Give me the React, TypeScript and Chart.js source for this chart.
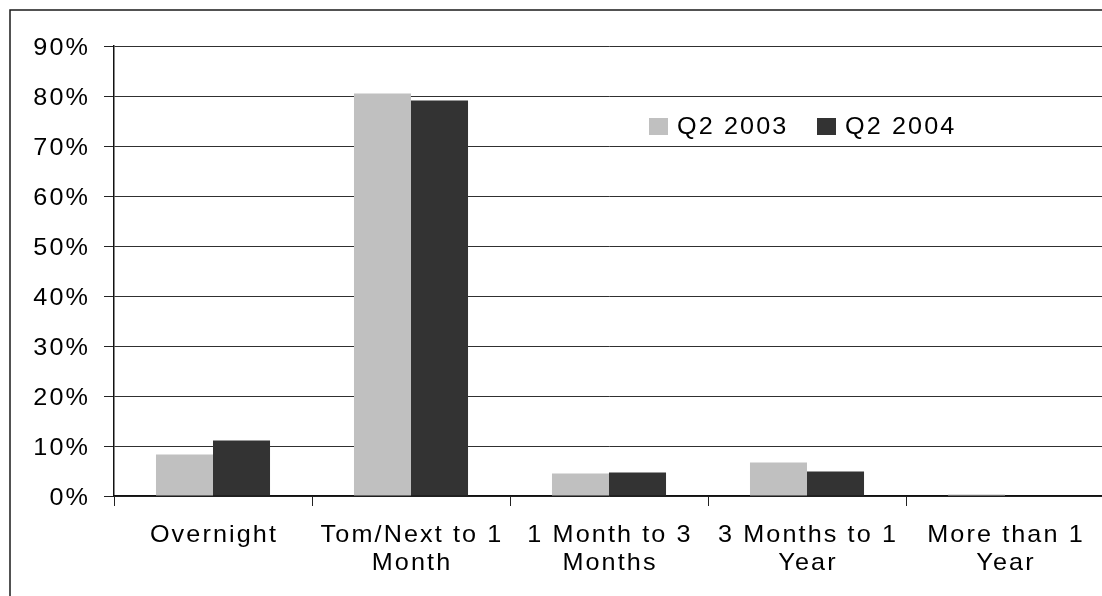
import React, { useEffect, useRef } from "react";
import { Chart, registerables } from "chart.js";

Chart.register(...registerables);

const categories: string[][] = [
  ["Overnight"],
  ["Tom/Next to 1", "Month"],
  ["1 Month to 3", "Months"],
  ["3 Months to 1", "Year"],
  ["More than 1", "Year"],
];
const seriesNames = ["Q2 2003", "Q2 2004"];
const q2003 = [8.3, 80.5, 4.5, 6.7, 0.3];
const q2004 = [11.1, 79.1, 4.7, 4.9, 0];
const seriesColors = ["#C0C0C0", "#333333"];
const yMin = 0;
const yMax = 90;
const yStep = 10;

const FONT = "24px 'Liberation Sans', Arial, sans-serif";
const STRETCH = 1.05;
const SPACING = 2;

function drawStretched(ctx: CanvasRenderingContext2D, text: string, x: number, y: number, align: CanvasTextAlign) {
  ctx.save();
  ctx.translate(x, y);
  ctx.scale(STRETCH, 1);
  ctx.textAlign = align;
  (ctx as any).letterSpacing = `${SPACING}px`;
  ctx.fillText(text, 0, 0);
  ctx.restore();
}

const framePlugin = {
  id: "frame",
  beforeDraw(chart: any) {
    const ctx = chart.ctx;
    ctx.save();
    ctx.fillStyle = "#fff";
    ctx.fillRect(0, 0, chart.width, chart.height);
    ctx.strokeStyle = "#1a1a1a";
    ctx.lineWidth = 1.5;
    ctx.strokeRect(10, 10, 3000, 3000);
    ctx.restore();
  },
};

const textPlugin = {
  id: "stretchedText",
  afterDraw(chart: any) {
    const ctx: CanvasRenderingContext2D = chart.ctx;
    ctx.save();
    ctx.font = FONT;
    ctx.fillStyle = "#000";
    ctx.textBaseline = "alphabetic";

    // y tick labels
    const ys = chart.scales.y;
    ys.ticks.forEach((t: any, i: number) => {
      const y = ys.getPixelForTick(i);
      drawStretched(ctx, `${t.value}%`, ys.right - 24, y + 8.8, "right");
    });

    // x category labels
    const xs = chart.scales.x;
    const labels: string[][] = chart.data.labels;
    labels.forEach((lines, i) => {
      const x = xs.getPixelForValue(i) + 1;
      lines.forEach((line, j) => {
        drawStretched(ctx, line, x, xs.top + 45.5 + j * 28.5, "center");
      });
    });

    // legend
    const starts = [649, 817];
    chart.data.datasets.forEach((ds: any, i: number) => {
      const x = starts[i];
      ctx.fillStyle = ds.backgroundColor;
      ctx.fillRect(x, 118, 19, 17);
      ctx.fillStyle = "#000";
      drawStretched(ctx, ds.label, x + 28, 133.5, "left");
    });
    ctx.restore();
  },
};

export default function App() {
  const ref = useRef<HTMLCanvasElement>(null);
  useEffect(() => {
    document.body.style.overflow = "hidden";
    const chart = new Chart(ref.current!, {
      type: "bar",
      data: {
        labels: categories,
        datasets: [
          { label: seriesNames[0], data: q2003, backgroundColor: seriesColors[0] },
          { label: seriesNames[1], data: q2004, backgroundColor: seriesColors[1] },
        ],
      },
      options: {
        animation: false,
        responsive: false,
        maintainAspectRatio: false,
        devicePixelRatio: 1,
        layout: { padding: { top: 46, left: 0, right: 6, bottom: 0 } },
        datasets: {
          bar: { categoryPercentage: 0.576, barPercentage: 1, borderWidth: 0 },
        },
        plugins: {
          legend: { display: false },
          tooltip: { enabled: false },
          title: { display: false },
        },
        scales: {
          x: {
            offset: true,
            grid: {
              offset: true,
              drawOnChartArea: false,
              drawTicks: true,
              tickLength: 10,
              tickColor: "#222",
              tickWidth: 1,
            },
            border: { display: true, color: "#111", width: 1.5 },
            ticks: {
              color: "rgba(0,0,0,0)",
              padding: 11,
              maxRotation: 0,
              autoSkip: false,
              font: { size: 12 },
            },
            afterFit(scale: any) {
              scale.height = 100;
            },
          },
          y: {
            min: yMin,
            max: yMax,
            ticks: {
              stepSize: yStep,
              color: "rgba(0,0,0,0)",
              padding: 13,
              font: { size: 12 },
            },
            grid: {
              color: "#303030",
              lineWidth: 1,
              drawTicks: true,
              tickLength: 10,
              tickColor: "#222",
            },
            border: { display: true, color: "#111", width: 1.5 },
            afterFit(scale: any) {
              scale.width = 114;
            },
          },
        },
      },
      plugins: [framePlugin, textPlugin],
    });
    return () => chart.destroy();
  }, []);
  return (
    <div
      style={{
        position: "fixed",
        left: 0,
        top: 0,
        width: 1102,
        height: 596,
        overflow: "hidden",
        background: "#fff",
      }}
    >
      <canvas ref={ref} width={1110} height={596} style={{ display: "block", width: 1110, height: 596 }} />
    </div>
  );
}
